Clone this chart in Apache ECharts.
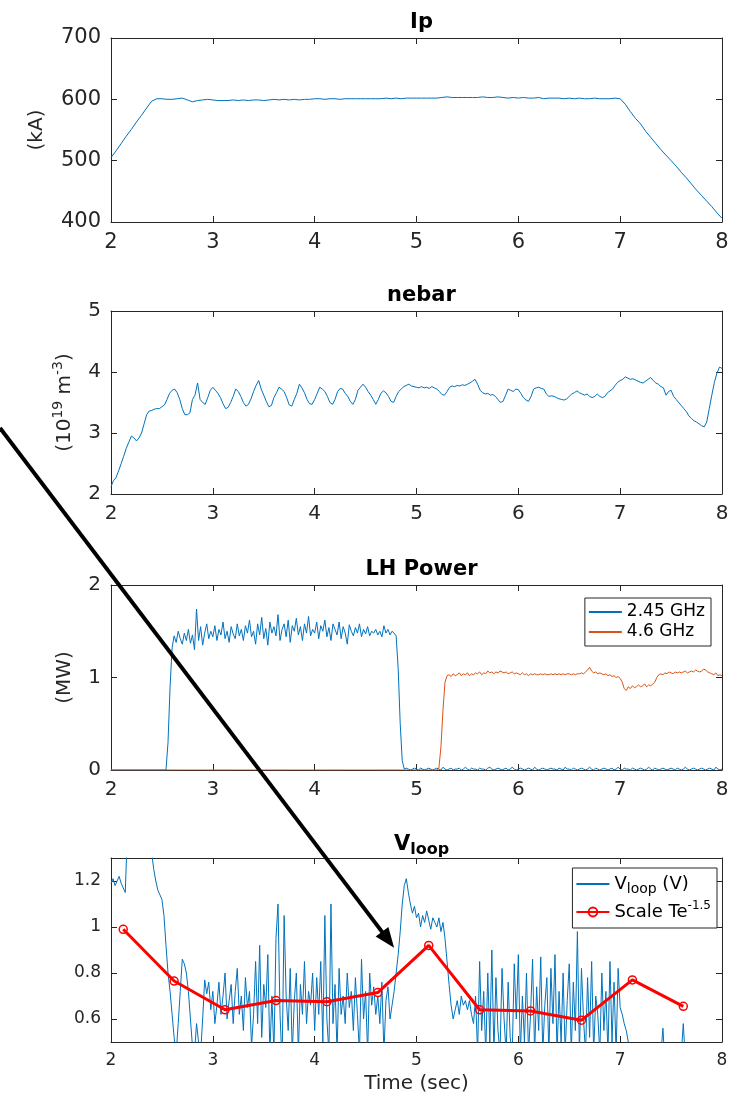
<!DOCTYPE html>
<html><head><meta charset="utf-8">
<script src="https://cdn.jsdelivr.net/npm/echarts@6/dist/echarts.min.js"></script>
<style>html,body{margin:0;padding:0;background:#fff}#c{width:741px;height:1099px}</style>
</head><body><div id="c"></div><script>
// ---------------- DATA ----------------
const timeTicks = [2, 3, 4, 5, 6, 7, 8];

// Ip (kA), sampled every 0.05 s from 2.00 s
const ipStart = 2.0, ipStep = 0.05;
const ipValues = [
 505,516,528,540,551,563,574,586,597,601,
 601,600,600,601,602,599,596,598,599,600,
 599,598,598,598,599,598,599,598,599,599,
 598,599,600,599,600,599,600,599,600,600,
 601,601,600,601,601,600,601,601,601,601,
 601,601,601,601,602,601,602,601,602,602,
 602,602,602,602,602,603,604,603,603,603,
 603,603,603,604,603,603,604,603,602,603,
 602,603,602,602,603,601,602,602,602,601,
 602,601,602,601,601,602,601,601,601,602,
 601,592,580,569,560,548,538,528,518,509,
 500,491,481,472,462,452,443,434,425,415,
 406];

// nebar (1e19 m^-3), sampled every 0.025 s from 2.000 s
const neStart = 2.0, neStep = 0.025;
const neValues = [
 2.12,2.22,2.27,2.38,2.50,2.62,2.75,2.85,2.95,2.92,
 2.87,2.92,3.00,3.15,3.30,3.36,3.37,3.39,3.40,3.40,
 3.43,3.46,3.55,3.65,3.70,3.72,3.66,3.55,3.40,3.30,
 3.30,3.33,3.55,3.62,3.82,3.55,3.50,3.47,3.58,3.70,
 3.75,3.70,3.65,3.58,3.48,3.40,3.42,3.50,3.60,3.72,
 3.68,3.60,3.50,3.44,3.47,3.56,3.68,3.78,3.86,3.72,
 3.62,3.52,3.43,3.45,3.58,3.66,3.75,3.72,3.68,3.58,
 3.46,3.44,3.55,3.65,3.80,3.74,3.66,3.55,3.48,3.47,
 3.55,3.65,3.75,3.72,3.68,3.60,3.50,3.47,3.55,3.68,
 3.73,3.72,3.65,3.60,3.52,3.47,3.55,3.70,3.75,3.80,
 3.75,3.68,3.62,3.55,3.47,3.55,3.65,3.69,3.66,3.60,
 3.52,3.50,3.60,3.68,3.72,3.76,3.78,3.80,3.77,3.76,
 3.75,3.74,3.76,3.74,3.75,3.73,3.76,3.74,3.72,3.68,
 3.63,3.62,3.68,3.75,3.77,3.76,3.78,3.77,3.79,3.78,
 3.80,3.82,3.85,3.88,3.80,3.70,3.66,3.64,3.65,3.62,
 3.63,3.60,3.55,3.50,3.52,3.62,3.72,3.70,3.68,3.72,
 3.71,3.65,3.58,3.54,3.52,3.60,3.72,3.74,3.75,3.73,
 3.72,3.64,3.60,3.61,3.60,3.58,3.56,3.55,3.54,3.56,
 3.60,3.64,3.66,3.69,3.66,3.64,3.62,3.64,3.60,3.58,
 3.60,3.64,3.60,3.58,3.60,3.66,3.69,3.72,3.78,3.83,
 3.86,3.88,3.92,3.90,3.88,3.89,3.87,3.85,3.83,3.82,
 3.85,3.88,3.91,3.86,3.82,3.80,3.76,3.74,3.62,3.68,
 3.70,3.60,3.55,3.50,3.45,3.40,3.35,3.28,3.24,3.20,
 3.18,3.15,3.12,3.10,3.18,3.40,3.62,3.83,3.98,4.08,
 4.06];

// LH power (MW), sampled every 0.02 s from 2.00 s
const lhStart = 2.0, lhStep = 0.02;
const lh245Values = [
 0,0,0,0,0,0,0,0,0,0,
 0,0,0,0,0,0,0,0,0,0,
 0,0,0,0,0,0,0,0,0.3,0.9,
 1.32,1.45,1.38,1.50,1.42,1.36,1.48,1.40,1.52,1.37,
 1.46,1.30,1.74,1.40,1.55,1.35,1.48,1.58,1.42,1.50,
 1.44,1.56,1.40,1.52,1.46,1.60,1.42,1.50,1.38,1.55,
 1.47,1.42,1.58,1.45,1.52,1.40,1.56,1.48,1.62,1.44,
 1.50,1.36,1.58,1.46,1.65,1.42,1.53,1.35,1.60,1.48,
 1.55,1.45,1.68,1.40,1.52,1.58,1.44,1.62,1.38,1.56,
 1.50,1.64,1.46,1.55,1.40,1.58,1.48,1.66,1.45,1.52,
 1.48,1.60,1.42,1.56,1.50,1.62,1.44,1.54,1.40,1.58,
 1.52,1.46,1.60,1.42,1.55,1.48,1.36,1.57,1.50,1.45,
 1.54,1.48,1.58,1.44,1.52,1.47,1.55,1.45,1.50,1.48,
 1.52,1.46,1.50,1.44,1.56,1.48,1.52,1.46,1.50,1.48,
 1.45,1.10,0.50,0.10,0.01,0.02,0.01,0.00,0.01,0.02,
 0.01,0.00,0.02,0.01,0.00,0.01,0.02,0.01,0.00,0.01,
 0.02,0.01,0.00,0.03,0.01,0.00,0.01,0.02,0.00,0.01,
 0.01,0.02,0.00,0.01,0.03,0.01,0.00,0.02,0.01,0.01,
 0.00,0.02,0.01,0.01,0.00,0.02,0.03,0.01,0.00,0.01,
 0.02,0.01,0.00,0.01,0.02,0.00,0.01,0.03,0.01,0.00,
 0.01,0.02,0.01,0.00,0.01,0.02,0.01,0.00,0.03,0.01,
 0.00,0.01,0.02,0.01,0.00,0.01,0.02,0.01,0.01,0.00,
 0.02,0.01,0.00,0.03,0.01,0.01,0.00,0.02,0.01,0.00,
 0.01,0.02,0.01,0.00,0.01,0.03,0.01,0.00,0.02,0.01,
 0.00,0.01,0.02,0.01,0.00,0.01,0.02,0.00,0.01,0.03,
 0.01,0.00,0.02,0.01,0.01,0.00,0.02,0.01,0.00,0.01,
 0.02,0.01,0.00,0.01,0.03,0.01,0.00,0.02,0.01,0.00,
 0.01,0.02,0.01,0.00,0.01,0.02,0.01,0.00,0.02,0.01,
 0.00,0.01,0.03,0.01,0.00,0.01,0.02,0.01,0.00,0.01,
 0.02,0.01,0.00,0.01,0.02,0.01,0.00,0.03,0.01,0.00,
 0.01];
const lh46Values = [
 0,0,0,0,0,0,0,0,0,0,
 0,0,0,0,0,0,0,0,0,0,
 0,0,0,0,0,0,0,0,0,0,
 0,0,0,0,0,0,0,0,0,0,
 0,0,0,0,0,0,0,0,0,0,
 0,0,0,0,0,0,0,0,0,0,
 0,0,0,0,0,0,0,0,0,0,
 0,0,0,0,0,0,0,0,0,0,
 0,0,0,0,0,0,0,0,0,0,
 0,0,0,0,0,0,0,0,0,0,
 0,0,0,0,0,0,0,0,0,0,
 0,0,0,0,0,0,0,0,0,0,
 0,0,0,0,0,0,0,0,0,0,
 0,0,0,0,0,0,0,0,0,0,
 0,0,0,0,0,0,0,0,0,0,
 0,0,0,0,0,0,0,0,0,0,
 0.00,0.02,0.25,0.65,0.95,1.02,1.03,1.01,1.04,1.02,
 1.03,1.05,1.02,1.04,1.03,1.05,1.02,1.04,1.03,1.05,
 1.04,1.06,1.03,1.05,1.04,1.07,1.05,1.06,1.04,1.06,
 1.05,1.07,1.06,1.05,1.06,1.04,1.05,1.06,1.04,1.05,
 1.04,1.03,1.05,1.03,1.04,1.02,1.04,1.03,1.04,1.03,
 1.03,1.04,1.03,1.04,1.03,1.03,1.04,1.03,1.04,1.03,
 1.04,1.03,1.04,1.03,1.04,1.04,1.03,1.04,1.03,1.04,
 1.04,1.05,1.04,1.06,1.08,1.11,1.07,1.05,1.06,1.04,
 1.05,1.04,1.03,1.04,1.02,1.03,1.01,1.02,1.00,1.01,
 0.99,0.95,0.88,0.86,0.90,0.88,0.91,0.89,0.90,0.92,
 0.90,0.91,0.93,0.90,0.92,0.91,0.93,0.95,1.00,1.03,
 1.04,1.03,1.05,1.04,1.06,1.05,1.04,1.06,1.05,1.06,
 1.05,1.06,1.07,1.05,1.06,1.07,1.06,1.08,1.07,1.06,
 1.07,1.09,1.08,1.06,1.05,1.04,1.03,1.05,1.02,1.03,
 1.02];

// Vloop (V), sampled every 0.02 s from 2.00 s
const vlStart = 2.0, vlStep = 0.02;
const vloopValues = [
 1.19,1.21,1.18,1.20,1.22,1.19,1.17,1.15,1.40,1.60,
 1.60,1.60,1.60,1.60,1.60,1.60,1.60,1.60,1.60,1.50,
 1.32,1.25,1.20,1.16,1.14,1.12,1.05,0.92,0.80,0.72,
 0.62,0.52,0.45,0.58,0.72,0.86,0.84,0.80,0.72,0.60,
 0.48,0.45,0.58,0.50,0.45,0.60,0.77,0.71,0.76,0.64,
 0.72,0.58,0.66,0.76,0.62,0.70,0.80,0.60,0.68,0.75,
 0.58,0.72,0.82,0.62,0.70,0.55,0.78,0.65,0.72,0.48,
 0.62,0.85,0.58,0.92,0.52,0.75,0.65,0.88,0.45,0.70,
 0.45,0.95,1.10,0.62,0.40,1.05,0.70,0.55,0.82,0.45,
 0.68,0.80,0.45,0.75,0.62,0.85,0.58,0.72,0.66,0.80,
 0.55,0.78,0.62,0.85,0.50,1.05,0.60,0.45,1.10,0.58,
 0.75,0.45,0.82,0.62,0.70,0.58,0.80,0.65,0.72,0.55,
 0.78,0.62,0.45,0.86,0.60,0.72,0.45,0.80,0.66,0.74,
 0.62,0.70,0.58,0.76,0.45,0.68,0.74,0.60,0.66,0.72,
 0.80,0.88,0.98,1.10,1.18,1.21,1.15,1.10,1.06,1.09,
 1.04,1.06,1.00,1.05,1.02,1.07,1.03,0.99,1.04,1.02,
 1.00,1.04,0.98,1.02,0.95,0.85,0.75,0.66,0.60,0.64,
 0.68,0.62,0.70,0.66,0.68,0.64,0.68,0.62,0.58,0.70,
 0.45,0.85,0.55,0.72,0.45,0.80,0.50,0.90,0.45,0.78,
 0.55,0.45,0.82,0.60,0.45,0.76,0.52,0.45,0.84,0.60,
 0.88,0.45,0.70,0.50,0.80,0.45,0.62,0.86,0.45,0.74,
 0.55,0.87,0.45,0.66,0.78,0.45,0.82,0.58,0.88,0.45,
 0.72,0.50,0.80,0.45,0.68,0.84,0.45,0.76,0.55,0.98,
 0.45,0.82,0.60,0.45,0.78,0.52,0.85,0.45,0.70,0.62,
 0.45,0.80,0.55,0.72,0.45,0.85,0.50,0.76,0.45,0.82,
 0.65,0.62,0.58,0.55,0.50,0.45,0.40,0.38,0.40,0.38,
 0.40,0.38,0.40,0.41,0.39,0.40,0.38,0.40,0.39,0.42,
 0.45,0.56,0.40,0.42,0.40,0.38,0.40,0.41,0.39,0.40,
 0.45,0.58,0.42,0.40,0.38,0.40,0.41,0.39,0.40,0.38,
 0.40,0.39,0.41,0.40,0.38,0.40,0.39,0.40,0.41,0.40,
 0.40];

// Scale Te^-1.5 points
const teTimes  = [2.12, 2.62, 3.12, 3.62, 4.12, 4.62, 5.12, 5.62, 6.12, 6.62, 7.12, 7.62];
const teValues = [0.99, 0.765, 0.64, 0.68, 0.675, 0.715, 0.92, 0.64, 0.635, 0.595, 0.77, 0.655];

// Vloop y tick labels
const vloopTicks = [0.6, 0.8, 1.0, 1.2];

// Annotation arrow, in Vloop-axes data coordinates
const arrowFrom = [0.91, 3.17];
const arrowTo   = [4.78, 0.91];

// ---------------- CHART ----------------
const FONT = "'DejaVu Sans', sans-serif";
const AX = '#262626';
const BLUE = '#0072BD', ORANGE = '#D95319', RED = '#FF0000';

function sampled(start, step, vals) {
  return vals.map((v, i) => [+(start + i * step).toFixed(4), v]);
}

const grids = [
  {left: 111, top: 38,  width: 611, height: 184},
  {left: 111, top: 311, width: 611, height: 183},
  {left: 111, top: 585, width: 611, height: 185},
  {left: 111, top: 858, width: 611, height: 184}
].map(g => Object.assign({containLabel: false, outerBoundsMode: 'none'}, g));

const lineAx = {show: true, onZero: false, lineStyle: {color: AX, width: 1}};
const tickAx = {show: true, inside: true, length: 6, lineStyle: {color: AX, width: 1}};

const xAxes = [], yAxes = [];
const xLabelSize = [21, 20, 20, 17];
for (let g = 0; g < 4; g++) {
  const bottom = {
    type: 'value', gridIndex: g, min: 2, max: 8, interval: 1, position: 'bottom',
    axisLine: lineAx, axisTick: tickAx, splitLine: {show: false},
    axisLabel: {fontSize: xLabelSize[g], color: AX, margin: 10, fontFamily: FONT}
  };
  if (g === 3) {
    bottom.name = 'Time (sec)';
    bottom.nameLocation = 'middle';
    bottom.nameGap = 32;
    bottom.nameTextStyle = {fontSize: 20, color: AX, fontFamily: FONT};
  }
  xAxes.push(bottom);
  xAxes.push({
    type: 'value', gridIndex: g, min: 2, max: 8, interval: 1, position: 'top',
    axisLine: lineAx, axisTick: tickAx, splitLine: {show: false}, axisLabel: {show: false}
  });
}

const yDefs = [
  {min: 400, max: 700, interval: 100, name: '(kA)', gap: 59, fs: 21},
  {min: 2, max: 5, interval: 1, name: '(10{sup|19} m{sup|-3})', gap: 31, fs: 20},
  {min: 0, max: 2, interval: 1, name: '(MW)', gap: 31, fs: 20},
  {min: 0.5, max: 1.3, custom: vloopTicks, name: '', gap: 30, fs: 17}
];
yDefs.forEach((d, g) => {
  const left = {
    type: 'value', gridIndex: g, min: d.min, max: d.max, position: 'left',
    axisLine: lineAx, axisTick: Object.assign({}, tickAx), splitLine: {show: false},
    axisLabel: {fontSize: d.fs, color: AX, margin: 10, fontFamily: FONT},
    name: d.name, nameLocation: 'middle', nameGap: d.gap, nameRotate: 90,
    nameTextStyle: {fontSize: 20, color: AX, fontFamily: FONT, lineHeight: 26,
      rich: {sup: {fontSize: 14, lineHeight: 14, verticalAlign: 'top', color: AX, fontFamily: FONT}}}
  };
  const right = {
    type: 'value', gridIndex: g, min: d.min, max: d.max, position: 'right',
    axisLine: lineAx, axisTick: Object.assign({}, tickAx), splitLine: {show: false}, axisLabel: {show: false}
  };
  if (d.custom) {
    left.axisLabel.customValues = d.custom;
    left.axisTick.customValues = d.custom;
    right.axisTick.customValues = d.custom;
  } else {
    left.interval = d.interval; right.interval = d.interval;
  }
  yAxes.push(left, right);
});

const titleText = ['Ip', 'nebar', 'LH Power', '{v|V}{s|loop}'];
const titles = titleText.map((t, g) => ({
  text: t, left: 416.5, top: grids[g].top - 31, textAlign: 'center',
  textStyle: {fontSize: 21, fontWeight: 'bold', color: '#000', fontFamily: FONT,
    rich: {
      v: {fontSize: 21, fontWeight: 'bold', lineHeight: 26, color: '#000', fontFamily: FONT},
      s: {fontSize: 16, fontWeight: 'bold', lineHeight: 14, verticalAlign: 'bottom', color: '#000', fontFamily: FONT}
    }}
}));

const lineSeries = (name, xi, data, color, extra) => Object.assign({
  name, type: 'line', xAxisIndex: xi, yAxisIndex: xi, data, symbol: 'none',
  showSymbol: false, clip: true,
  lineStyle: {color, width: 1}, itemStyle: {color}, emphasis: {disabled: true}
}, extra || {});

const hideSym = {opacity: 0};
const option = {
  animation: false,
  backgroundColor: '#fff',
  title: titles,
  grid: grids,
  xAxis: xAxes,
  yAxis: yAxes,
  legend: [
    {
      data: [{name: '2.45 GHz', itemStyle: hideSym}, {name: '4.6 GHz', itemStyle: hideSym}],
      orient: 'vertical', right: 30, top: 598,
      itemWidth: 33, itemHeight: 12, itemGap: 0, padding: [4, 6, 4, 3],
      borderColor: AX, borderWidth: 1, backgroundColor: '#fff', selectedMode: false,
      textStyle: {fontSize: 17, color: '#000', fontFamily: FONT, lineHeight: 20}
    },
    {
      data: [{name: 'Vloop (V)', itemStyle: hideSym}, {name: 'Scale Te'}],
      orient: 'vertical', right: 24, top: 868,
      itemWidth: 33, itemHeight: 11, itemGap: 4, padding: [4, 6, 4, 3],
      borderColor: AX, borderWidth: 1, backgroundColor: '#fff', selectedMode: false,
      formatter: n => n === 'Vloop (V)' ? 'V{sub|loop} (V)' : 'Scale Te{sup|-1.5}',
      textStyle: {fontSize: 18, color: '#000', fontFamily: FONT, lineHeight: 24,
        rich: {
          sub: {fontSize: 14, lineHeight: 12, verticalAlign: 'bottom', color: '#000', fontFamily: FONT},
          sup: {fontSize: 12, lineHeight: 12, verticalAlign: 'top', color: '#000', fontFamily: FONT}
        }}
    }
  ],
  series: [
    lineSeries('Ip', 0, sampled(ipStart, ipStep, ipValues), BLUE),
    lineSeries('nebar', 2, sampled(neStart, neStep, neValues), BLUE),
    lineSeries('2.45 GHz', 4, sampled(lhStart, lhStep, lh245Values), BLUE),
    lineSeries('4.6 GHz', 4, sampled(lhStart, lhStep, lh46Values), ORANGE),
    lineSeries('Vloop (V)', 6, sampled(vlStart, vlStep, vloopValues), BLUE),
    lineSeries('Scale Te', 6, teTimes.map((t, i) => [t, teValues[i]]), RED, {
      symbol: 'circle', symbolSize: 8, showSymbol: true,
      lineStyle: {color: RED, width: 3},
      itemStyle: {color: 'rgba(255,255,255,0)', borderColor: RED, borderWidth: 1.5}
    })
  ]
};

const chart = echarts.init(document.getElementById('c'), null, {renderer: 'canvas'});
chart.setOption(option);

// Arrow annotation positioned through the Vloop axes
const p0 = chart.convertToPixel({seriesIndex: 5}, arrowFrom);
const p1 = chart.convertToPixel({seriesIndex: 5}, arrowTo);
const dx = p1[0] - p0[0], dy = p1[1] - p0[1];
const L = Math.sqrt(dx * dx + dy * dy);
const ux = dx / L, uy = dy / L, nx = -uy, ny = ux;
const headLen = 20, halfW = 8;
const bx = p1[0] - ux * headLen, by = p1[1] - uy * headLen;
chart.setOption({
  graphic: [
    {type: 'line', z: 100, silent: true,
     shape: {x1: p0[0], y1: p0[1], x2: bx + ux * 2, y2: by + uy * 2},
     style: {stroke: '#000', lineWidth: 4}},
    {type: 'polygon', z: 100, silent: true,
     shape: {points: [[p1[0], p1[1]], [bx + nx * halfW, by + ny * halfW], [bx - nx * halfW, by - ny * halfW]]},
     style: {fill: '#000'}}
  ]
});
</script></body></html>
